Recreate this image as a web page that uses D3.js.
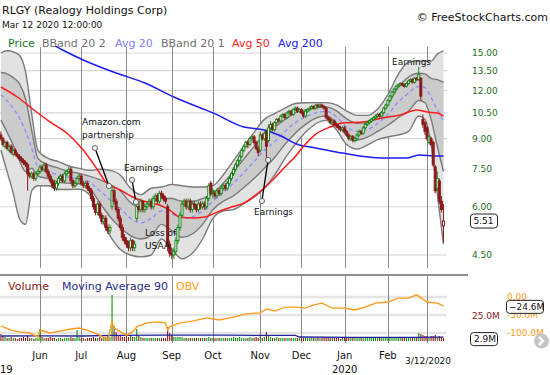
<!DOCTYPE html>
<html>
<head>
<meta charset="utf-8">
<script src="https://cdn.jsdelivr.net/npm/d3@7"></script>
<style>
    body { margin: 0; background: #fff; }
    svg { display: block; font-family: "DejaVu Sans", Verdana, sans-serif; }
</style>
</head>
<body>
<div id="chart"></div>
<script>
/*
    RLGY daily candles with Bollinger bands, moving averages, volume and OBV
 */

// trading days shown per month (May 2019 .. Mar 12 2020)
var monthLabels = ["May", "Jun", "Jul", "Aug", "Sep", "Oct", "Nov", "Dec", "Jan", "Feb", "3/12/2020"];
var monthDays = [19, 20, 22, 22, 20, 23, 20, 21, 21, 19, 9];
var priceTicks = [4.5, 6, 7.5, 9, 10.5, 12, 13.5, 15];

var opens = [
    9.2, 9.0, 8.6, 8.8, 8.4, 8.6, 8.2, 8.4, 8.2, 8.1, 8.0, 7.9, 7.8, 7.7, 7.3, 7.2, 7.3, 7.1, 7.3,            // May
    7.4, 7.6, 7.5, 7.7, 7.4, 7.2, 7.0, 6.9, 6.7, 6.9, 7.1, 7.2, 7.0, 7.3, 7.4, 7.5, 7.0, 6.8, 6.9, 7.1,      // Jun
    7.2, 6.9, 6.8, 6.9, 6.7, 6.6, 6.3, 6.0, 5.8, 6.1, 5.7, 5.5, 5.6, 5.3, 5.2, 6.0, 6.6, 6.2, 5.9, 5.6, 5.3, 5.0, // Jul
    4.9, 4.8, 4.7, 4.9, 4.7, 5.6, 6.0, 5.9, 6.2, 5.9, 6.0, 6.1, 6.2, 6.0, 6.3, 6.4, 6.2, 6.5, 6.4, 6.3, 6.0, 4.8, // Aug
    4.55, 4.5, 4.6, 4.9, 5.3, 5.7, 6.1, 6.2, 6.0, 6.2, 5.9, 6.1, 6.0, 5.9, 6.1, 6.0, 6.1, 6.0, 6.3, 6.9,    // Sep
    6.6, 6.5, 6.4, 6.6, 6.5, 6.7, 6.8, 6.7, 6.9, 7.1, 7.3, 7.5, 7.7, 7.9, 8.1, 8.4, 8.6, 8.8, 8.7, 9.0, 9.1, 8.8, 8.5, // Oct
    8.4, 9.2, 9.0, 9.4, 8.9, 9.6, 9.8, 9.5, 9.9, 10.1, 10.0, 10.3, 10.4, 10.2, 10.5, 10.6, 10.4, 10.7, 10.8, 10.6, // Nov
    10.7, 10.5, 10.3, 10.6, 10.7, 10.8, 10.9, 10.8, 11.0, 10.9, 11.0, 10.9, 10.8, 10.2, 10.1, 9.9, 10.0, 9.8, 9.7, 9.6, 9.5, // Dec
    9.6, 9.4, 9.2, 9.0, 9.1, 8.9, 9.0, 9.2, 9.4, 9.3, 9.6, 9.8, 9.9, 10.0, 10.1, 10.2, 10.3, 10.4, 10.3, 10.5, 10.8, // Jan
    11.0, 11.3, 11.6, 11.9, 12.1, 12.3, 12.4, 12.5, 12.4, 12.3, 12.5, 12.7, 12.8, 12.6, 12.9, 12.8, 12.9, 10.1, 9.9, // Feb
    9.6, 8.8, 9.0, 8.8, 7.6, 6.7, 7.0, 6.2, 5.35                                                              // Mar
];
var highs = [
    9.4, 9.1, 8.9, 8.9, 8.7, 8.7, 8.5, 8.5, 8.3, 8.2, 8.1, 8.0, 7.9, 7.8, 7.4, 7.4, 7.4, 7.4, 7.5,
    7.7, 7.7, 7.8, 7.8, 7.5, 7.3, 7.1, 7.0, 7.0, 7.2, 7.3, 7.3, 7.4, 7.5, 7.6, 7.6, 7.1, 7.0, 7.2, 7.3,
    7.3, 7.0, 7.0, 7.0, 6.8, 6.7, 6.4, 6.1, 6.2, 6.2, 5.8, 5.7, 5.7, 5.4, 5.4, 6.8, 6.7, 6.3, 6.0, 5.7, 5.4, 5.1,
    5.0, 4.9, 5.0, 4.95, 4.9, 6.2, 6.2, 6.3, 6.2, 6.1, 6.2, 6.3, 6.3, 6.4, 6.5, 6.5, 6.6, 6.6, 6.5, 6.4, 6.1, 4.9,
    4.7, 4.7, 5.0, 5.4, 5.8, 6.2, 6.3, 6.3, 6.3, 6.3, 6.2, 6.2, 6.1, 6.2, 6.2, 6.2, 6.2, 6.4, 6.9, 7.0,
    6.7, 6.6, 6.7, 6.7, 6.8, 6.9, 6.9, 7.0, 7.2, 7.4, 7.6, 7.8, 8.0, 8.2, 8.5, 8.7, 8.9, 8.9, 9.1, 9.2, 9.2, 8.9, 8.6,
    9.4, 9.3, 9.4, 9.5, 9.8, 10.0, 9.9, 10.0, 10.2, 10.2, 10.4, 10.5, 10.5, 10.6, 10.7, 10.7, 10.8, 10.9, 10.9, 10.8,
    10.8, 10.6, 10.7, 10.8, 10.9, 11.0, 11.0, 11.1, 11.1, 11.1, 11.1, 11.0, 10.9, 10.3, 10.2, 10.1, 10.1, 9.9, 9.8, 9.7, 9.7,
    9.7, 9.5, 9.3, 9.2, 9.2, 9.1, 9.3, 9.5, 9.5, 9.7, 9.9, 10.0, 10.1, 10.2, 10.3, 10.4, 10.5, 10.5, 10.6, 10.9, 11.1,
    11.4, 11.7, 12.0, 12.2, 12.4, 12.5, 12.6, 12.6, 12.5, 12.6, 12.8, 12.9, 12.9, 13.0, 13.0, 13.8, 13.0, 10.4, 10.0,
    9.7, 9.2, 9.1, 8.9, 7.7, 7.4, 7.1, 6.4, 6.1
];
var lows = [
    8.9, 8.6, 8.5, 8.4, 8.3, 8.2, 8.1, 8.1, 8.0, 7.9, 7.8, 7.7, 7.6, 6.6, 7.1, 7.1, 7.0, 7.0, 7.2,
    7.3, 7.4, 7.4, 7.3, 7.1, 6.9, 6.7, 6.6, 6.6, 6.8, 7.0, 6.9, 6.9, 7.2, 7.3, 6.9, 6.7, 6.7, 6.8, 7.0,
    6.8, 6.7, 6.7, 6.6, 6.5, 6.2, 5.9, 5.7, 5.7, 5.6, 5.4, 5.4, 5.2, 5.1, 5.1, 5.9, 6.1, 5.8, 5.5, 5.2, 4.9, 4.8,
    4.7, 4.6, 4.6, 4.6, 4.6, 5.5, 5.8, 5.8, 5.8, 5.8, 5.9, 6.0, 5.9, 5.9, 6.2, 6.1, 6.1, 6.3, 6.2, 6.1, 4.6, 4.45,
    4.4, 4.4, 4.5, 4.8, 5.2, 5.6, 6.0, 5.9, 5.9, 5.8, 5.8, 5.9, 5.8, 5.8, 5.9, 5.9, 5.9, 5.9, 6.2, 6.4,
    6.3, 6.3, 6.3, 6.4, 6.4, 6.6, 6.6, 6.6, 6.8, 7.0, 7.2, 7.4, 7.6, 7.8, 8.0, 8.3, 8.5, 8.5, 8.6, 8.9, 8.7, 8.4, 8.1,
    8.3, 8.9, 8.9, 8.0, 8.8, 9.4, 9.4, 9.4, 9.8, 9.9, 9.9, 10.2, 10.1, 10.1, 10.4, 10.3, 10.3, 10.6, 10.5, 10.5,
    10.4, 10.2, 10.2, 10.5, 10.6, 10.7, 10.7, 10.7, 10.8, 10.8, 10.8, 10.7, 10.1, 10.0, 9.8, 9.8, 9.7, 9.6, 9.5, 9.4, 9.4,
    9.3, 9.1, 8.9, 8.9, 8.8, 8.8, 8.9, 9.1, 9.2, 9.2, 9.5, 9.7, 9.8, 9.9, 10.0, 10.1, 10.2, 10.2, 10.2, 10.4, 10.7,
    10.9, 11.2, 11.5, 11.8, 12.0, 12.2, 12.3, 12.3, 12.2, 12.2, 12.4, 12.6, 12.5, 12.5, 12.7, 12.7, 11.3, 9.6, 9.2,
    8.9, 8.7, 8.6, 7.6, 6.5, 6.6, 6.1, 5.8, 4.85
];
var closes = [
    9.0, 8.7, 8.8, 8.5, 8.6, 8.3, 8.4, 8.2, 8.1, 8.0, 7.9, 7.8, 7.7, 7.3, 7.2, 7.3, 7.1, 7.3, 7.4,
    7.6, 7.5, 7.7, 7.4, 7.2, 7.0, 6.8, 6.7, 6.9, 7.1, 7.2, 7.0, 7.3, 7.4, 7.5, 7.0, 6.8, 6.9, 7.1, 7.2,
    6.9, 6.8, 6.9, 6.7, 6.6, 6.3, 6.0, 5.8, 6.1, 5.7, 5.5, 5.6, 5.3, 5.2, 5.3, 6.6, 6.2, 5.9, 5.6, 5.3, 5.0, 4.9,
    4.8, 4.7, 4.9, 4.7, 4.8, 6.0, 5.9, 6.2, 5.9, 6.0, 6.1, 6.2, 6.0, 6.3, 6.4, 6.2, 6.5, 6.4, 6.3, 6.2, 4.75, 4.55,
    4.5, 4.6, 4.9, 5.3, 5.7, 6.1, 6.2, 6.0, 6.2, 5.9, 6.1, 6.0, 5.9, 6.1, 6.0, 6.1, 6.0, 6.3, 6.8, 6.5,
    6.5, 6.4, 6.6, 6.5, 6.7, 6.8, 6.7, 6.9, 7.1, 7.3, 7.5, 7.7, 7.9, 8.1, 8.4, 8.6, 8.8, 8.7, 9.0, 9.1, 8.8, 8.5, 8.3,
    9.2, 9.0, 9.3, 8.6, 9.6, 9.8, 9.5, 9.9, 10.1, 10.0, 10.3, 10.4, 10.2, 10.5, 10.6, 10.4, 10.7, 10.8, 10.6, 10.7,
    10.5, 10.3, 10.6, 10.7, 10.8, 10.9, 10.8, 11.0, 10.9, 11.0, 10.9, 10.8, 10.2, 10.1, 9.9, 10.0, 9.8, 9.7, 9.6, 9.5, 9.6,
    9.4, 9.2, 9.0, 9.1, 8.9, 9.0, 9.2, 9.4, 9.3, 9.6, 9.8, 9.9, 10.0, 10.1, 10.2, 10.3, 10.4, 10.3, 10.5, 10.8, 11.0,
    11.3, 11.6, 11.9, 12.1, 12.3, 12.4, 12.5, 12.4, 12.3, 12.5, 12.7, 12.8, 12.6, 12.9, 12.8, 13.2, 11.6, 9.8, 9.4,
    9.0, 9.1, 8.7, 7.7, 6.6, 7.1, 6.2, 5.9, 5.51
];
// volume in millions
var volumes = [
    7, 5, 4, 3, 3, 4, 3, 3, 2, 3, 3, 4, 3, 5, 3, 3, 2, 3, 3,
    12, 4, 3, 3, 3, 4, 3, 3, 2, 3, 3, 2, 3, 3, 3, 4, 3, 3, 11, 4,
    3, 3, 2, 3, 3, 3, 4, 3, 3, 4, 3, 3, 4, 5, 4, 46, 15, 9, 6, 5, 4, 4,
    5, 4, 6, 4, 4, 12, 5, 4, 3, 3, 3, 3, 3, 3, 3, 3, 3, 3, 3, 3, 14, 8,
    6, 4, 4, 4, 4, 4, 3, 3, 3, 3, 3, 3, 3, 3, 3, 3, 3, 3, 4, 3,
    3, 3, 3, 3, 3, 3, 3, 3, 3, 3, 4, 3, 3, 4, 3, 3, 3, 3, 4, 3, 3, 4, 3,
    5, 3, 4, 9, 5, 4, 3, 3, 4, 3, 3, 3, 3, 3, 3, 3, 3, 3, 3, 3,
    3, 3, 3, 3, 3, 3, 3, 3, 3, 3, 3, 3, 4, 3, 3, 3, 3, 3, 3, 2, 3,
    3, 3, 3, 3, 3, 3, 3, 3, 3, 3, 3, 3, 3, 3, 3, 3, 3, 3, 3, 3, 4,
    4, 3, 3, 3, 3, 3, 3, 3, 3, 3, 3, 3, 3, 4, 3, 8, 7, 6, 5,
    5, 4, 5, 5, 6, 4, 5, 4, 2.9
];

// indicator readings (day index into the candle arrays)
var bandDays = [0, 3, 6, 9, 12, 15, 18, 23, 28, 33, 38, 43, 48, 53, 58, 63, 68, 73, 78, 83, 88, 93, 98,
    103, 108, 113, 118, 123, 128, 133, 138, 143, 148, 153, 158, 163, 168, 173, 178, 183, 188, 193, 198,
    203, 206, 209, 212, 215];
var ma20Vals = [11.7, 11.3, 10.8, 10.2, 9.4, 8.5, 7.6, 7.4, 7.25, 7.15, 7.1, 6.95, 6.6, 6.25, 5.95, 5.6,
    5.45, 5.6, 5.85, 5.75, 5.6, 5.65, 5.85, 6.2, 6.55, 6.9, 7.35, 7.85, 8.4, 8.85, 9.4, 9.9, 10.25, 10.5,
    10.6, 10.25, 9.65, 9.4, 9.5, 9.85, 10.4, 11.2, 11.8, 12.3, 12.2, 11.5, 10.7, 10.0];
var sd20Vals = [1.65, 1.95, 2.15, 2.3, 2.0, 0.95, 0.4, 0.3, 0.3, 0.25, 0.22, 0.25, 0.45, 0.6, 0.65, 0.55,
    0.5, 0.55, 0.45, 0.55, 0.6, 0.55, 0.45, 0.3, 0.35, 0.5, 0.62, 0.75, 0.85, 0.8, 0.7, 0.6, 0.45, 0.33,
    0.28, 0.38, 0.48, 0.47, 0.42, 0.45, 0.65, 1.0, 1.2, 1.0, 1.05, 1.4, 2.1, 2.6];

var ma50Days = [0, 8, 16, 24, 32, 40, 47, 51, 58, 64, 71, 77, 82, 87, 93, 99, 105, 112, 118, 125, 132,
    138, 143, 147, 153, 160, 166, 176, 185, 194, 202, 207, 212, 215];
var ma50Vals = [12.25, 11.54, 10.68, 9.94, 9.31, 8.41, 7.47, 6.95, 6.63, 6.36, 6.17, 6.06, 5.88, 5.64,
    5.61, 5.64, 5.81, 5.99, 6.13, 6.51, 7.04, 7.6, 8.1, 8.6, 9.25, 9.65, 9.88, 9.94, 10.18, 10.37, 10.68,
    10.55, 10.49, 10.3];

var ma200Days = [24, 30, 40, 56, 70, 84, 97, 103, 118, 128, 135, 145, 153, 166, 185, 197, 203, 212, 215];
var ma200Vals = [15.9, 15.27, 14.39, 13.31, 12.54, 11.54, 10.81, 10.5, 9.65, 9.48, 9.2, 8.67, 8.52, 8.26,
    8.02, 8.02, 8.17, 8.12, 8.12];

var volMaDays = [0, 19, 40, 54, 80, 110, 143, 145, 170, 200, 215];
var volMaVals = [5.0, 5.2, 5.0, 5.6, 5.9, 5.8, 5.6, 4.0, 3.7, 3.6, 3.9];

// on balance volume, millions
var obvDays = [0, 5, 9, 14, 18, 19, 24, 29, 34, 38, 43, 48, 52, 54, 55, 58, 61, 64, 66, 71, 76, 80, 81,
    82, 87, 93, 100, 106, 113, 119, 126, 129, 133, 138, 143, 148, 152, 156, 161, 167, 172, 177, 182, 188,
    193, 198, 202, 207, 212, 215];
var obvVals = [-80, -92, -97, -100, -111, -92, -100, -94, -89, -86, -94, -106, -119, -69, -86, -97, -106,
    -97, -83, -72, -69, -72, -92, -83, -72, -67, -58, -64, -56, -47, -44, -33, -39, -28, -28, -31, -22,
    -17, -31, -31, -36, -28, -17, -14, -3, -3, 6, -14, -17, -24.6];

var notes = [
    {lines: ["Amazon.com", "partnership"], tx: 82, ty: 125, from: [45.7, 8.51], to: [52.5, 6.79]},
    {lines: ["Earnings"], tx: 124, ty: 171, from: [63.7, 7.04], to: [65.6, 6.17]},
    {lines: ["Loss of", "USAA"], tx: 145, ty: 236},
    {lines: ["Earnings"], tx: 254, ty: 215, from: [129.8, 7.93], to: [126.8, 6.21]},
    {lines: ["Earnings"], tx: 392, ty: 65}
];

var W = 550, H = 375;
var plot = {left: 0, right: 447, top: 46, bottom: 268};
var volBox = {top: 276, bottom: 343};
var GREEN = "#1a861a", RED = "#8b1a1a";

var x = d3.scaleLinear().domain([19, 207]).range([40, 427]);
var y = d3.scaleLog().domain([4.5, 15]).range([255, 53]);
var yVol = d3.scaleLinear().domain([0, 25]).range([341, 316]);
var yObv = d3.scaleLinear().domain([-100, 0]).range([333, 297]);

var svg = d3.select("#chart").append("svg")
    .attr("width", W)
    .attr("height", H);

var defs = svg.append("defs");
defs.append("clipPath").attr("id", "clipMain")
    .append("rect")
    .attr("x", plot.left).attr("y", plot.top)
    .attr("width", plot.right - plot.left).attr("height", plot.bottom - plot.top);
defs.append("clipPath").attr("id", "clipVol")
    .append("rect")
    .attr("x", plot.left).attr("y", volBox.top)
    .attr("width", plot.right - plot.left).attr("height", volBox.bottom - volBox.top);

// month boundaries
var monthStart = [];
var acc = 0;
monthDays.forEach(function (n) { monthStart.push(acc); acc += n; });

// ---------- grid ----------
var grid = svg.append("g");
grid.selectAll(".hg").data(priceTicks).enter().append("line")
    .attr("x1", plot.left).attr("x2", plot.right)
    .attr("y1", function (d) { return y(d); }).attr("y2", function (d) { return y(d); })
    .attr("stroke", "#d6d6d6").attr("stroke-width", 1.2);

[0, -50, -100].forEach(function (v) {
    grid.append("line")
        .attr("x1", plot.left).attr("x2", plot.right)
        .attr("y1", yObv(v)).attr("y2", yObv(v))
        .attr("stroke", "#e4e4e4").attr("stroke-width", 2.5);
});

var vLines = monthStart.slice(1);
grid.selectAll(".vg").data(vLines).enter().append("line")
    .attr("x1", function (d) { return Math.round(x(d)) + 0.5; })
    .attr("x2", function (d) { return Math.round(x(d)) + 0.5; })
    .attr("y1", plot.top + 1).attr("y2", plot.bottom)
    .attr("stroke", "#8a8a8a").attr("stroke-width", 1);
grid.selectAll(".vg2").data(vLines).enter().append("line")
    .attr("x1", function (d) { return Math.round(x(d)) + 0.5; })
    .attr("x2", function (d) { return Math.round(x(d)) + 0.5; })
    .attr("y1", volBox.top).attr("y2", volBox.bottom)
    .attr("stroke", "#8a8a8a").attr("stroke-width", 1);

// ---------- bollinger bands ----------
var main = svg.append("g").attr("clip-path", "url(#clipMain)");
var band = bandDays.map(function (d, i) { return {k: d, m: ma20Vals[i], s: sd20Vals[i]}; });

function bandArea(n) {
    return d3.area().curve(d3.curveMonotoneX)
        .x(function (d) { return x(d.k); })
        .y0(function (d) { return y(Math.max(0.5, d.m - n * d.s)); })
        .y1(function (d) { return y(d.m + n * d.s); });
}
function bandLine(n) {
    return d3.line().curve(d3.curveMonotoneX)
        .x(function (d) { return x(d.k); })
        .y(function (d) { return y(Math.max(0.5, d.m + n * d.s)); });
}

main.append("path").datum(band).attr("d", bandArea(2)).attr("fill", "#e2e2e2");
main.append("path").datum(band).attr("d", bandArea(1)).attr("fill", "#cbcbcb");
[2, 1, -1, -2].forEach(function (n) {
    main.append("path").datum(band).attr("d", bandLine(n))
        .attr("fill", "none").attr("stroke", "#7a7a7a").attr("stroke-width", 1.4);
});
main.append("path").datum(band)
    .attr("d", bandLine(0))
    .attr("fill", "none").attr("stroke", "#8c8cff").attr("stroke-width", 1.3)
    .attr("stroke-dasharray", "4,3");

// ---------- moving averages ----------
function maLine(days, vals, scale) {
    return d3.line().curve(d3.curveMonotoneX)
        .x(function (d, i) { return x(days[i]); })
        .y(function (d) { return scale(d); })(vals);
}
main.append("path").attr("d", maLine(ma200Days, ma200Vals, y))
    .attr("fill", "none").attr("stroke", "#1c1cf0").attr("stroke-width", 1.5);
main.append("path").attr("d", maLine(ma50Days, ma50Vals, y))
    .attr("fill", "none").attr("stroke", "#ff1a1a").attr("stroke-width", 1.5);

// ---------- candles ----------
var candles = closes.map(function (c, i) {
    var prev = i > 0 ? closes[i - 1] : opens[i];
    return {k: i, o: opens[i], h: highs[i], l: lows[i], c: c, up: c >= prev};
});
var cg = main.append("g");
cg.selectAll(".wick").data(candles).enter().append("line")
    .attr("x1", function (d) { return x(d.k); })
    .attr("x2", function (d) { return x(d.k); })
    .attr("y1", function (d) { return y(d.h); })
    .attr("y2", function (d) { return y(d.l); })
    .attr("stroke", function (d) { return d.up ? GREEN : RED; })
    .attr("stroke-width", 1);
cg.selectAll(".body").data(candles).enter().append("rect")
    .attr("x", function (d) { return x(d.k) - 1; })
    .attr("y", function (d) { return y(Math.max(d.o, d.c)); })
    .attr("width", 2)
    .attr("height", function (d) { return Math.max(0.8, Math.abs(y(d.o) - y(d.c))); })
    .attr("fill", function (d) { return d.c > d.o ? "#fff" : (d.up ? GREEN : RED); })
    .attr("stroke", function (d) { return d.up ? GREEN : RED; })
    .attr("stroke-width", 1);

// ---------- annotations ----------
var ann = svg.append("g").attr("font-size", "9px").attr("fill", "#111");
notes.forEach(function (n) {
    n.lines.forEach(function (t, j) {
        ann.append("text").attr("x", n.tx).attr("y", n.ty + j * 12.5).text(t);
    });
    if (n.from) {
        ann.append("line")
            .attr("x1", x(n.from[0])).attr("y1", y(n.from[1]))
            .attr("x2", x(n.to[0])).attr("y2", y(n.to[1]))
            .attr("stroke", "#000").attr("stroke-width", 1.3);
        [n.from, n.to].forEach(function (p) {
            ann.append("circle").attr("cx", x(p[0])).attr("cy", y(p[1])).attr("r", 2.6)
                .attr("fill", "#eee").attr("stroke", "#666").attr("stroke-width", 1);
        });
    }
});

// ---------- price axis ----------
var ax = svg.append("g").attr("font-size", "9px").attr("fill", "#1e6e1e");
ax.selectAll("text").data(priceTicks).enter().append("text")
    .attr("x", 472)
    .attr("y", function (d) { return y(d); })
    .attr("dy", "0.35em")
    .text(function (d) { return d3.format(".2f")(d); });

var last = closes[closes.length - 1];
svg.append("rect").attr("x", 470.5).attr("y", y(last) - 7).attr("width", 27).attr("height", 14)
    .attr("rx", 3).attr("fill", "#fff").attr("stroke", "#222");
svg.append("text").attr("x", 473.5).attr("y", y(last)).attr("dy", "0.35em")
    .attr("font-size", "9px").attr("fill", "#111").text(d3.format(".2f")(last));

// ---------- volume panel ----------
svg.append("line").attr("x1", 0).attr("x2", 468).attr("y1", 275).attr("y2", 275)
    .attr("stroke", "#6a6a6a").attr("stroke-width", 1.5);

var vg = svg.append("g").attr("clip-path", "url(#clipVol)");
vg.selectAll(".vb").data(candles).enter().append("line")
    .attr("x1", function (d) { return x(d.k); })
    .attr("x2", function (d) { return x(d.k); })
    .attr("y1", yVol(0))
    .attr("y2", function (d) { return yVol(volumes[d.k]); })
    .attr("stroke", function (d) { return d.up ? "#0f8f0f" : "#8b1a1a"; })
    .attr("stroke-width", 1.1);
vg.append("path").attr("d", d3.line()
        .x(function (d, i) { return x(volMaDays[i]); })
        .y(function (d) { return yVol(d); })(volMaVals))
    .attr("fill", "none").attr("stroke", "#22229a").attr("stroke-width", 1.3);
vg.append("path").attr("d", d3.line()
        .x(function (d, i) { return x(obvDays[i]); })
        .y(function (d) { return yObv(d); })(obvVals))
    .attr("fill", "none").attr("stroke", "#ff9a1a").attr("stroke-width", 1.4);

// volume legend
var vl = svg.append("g").attr("font-size", "11px");
vl.append("text").attr("x", 8).attr("y", 290).attr("fill", "#8b1a1a").text("Volume");
vl.append("text").attr("x", 62).attr("y", 290).attr("fill", "#2a2a8a").text("Moving Average 90");
vl.append("text").attr("x", 176).attr("y", 290).attr("fill", "#ff9a1a").text("OBV");

// volume / obv axis labels
var va = svg.append("g").attr("font-size", "9px");
va.append("text").attr("x", 507).attr("y", yObv(0)).attr("dy", "0.35em").attr("fill", "#ff9a1a").text("0.00");
va.append("text").attr("x", 507).attr("y", yObv(-50)).attr("dy", "0.35em").attr("fill", "#ff9a1a").text("-50.0M");
va.append("text").attr("x", 507).attr("y", yObv(-100)).attr("dy", "0.35em").attr("fill", "#ff9a1a").text("-100.0M");
va.append("text").attr("x", 472).attr("y", yVol(25)).attr("dy", "0.35em").attr("fill", "#8b1a1a").text("25.0M");

var obvLast = obvVals[obvVals.length - 1];
va.append("rect").attr("x", 506.5).attr("y", yObv(obvLast) - 5.5).attr("width", 37).attr("height", 13)
    .attr("rx", 3).attr("fill", "#fff").attr("stroke", "#222");
va.append("text").attr("x", 509).attr("y", yObv(obvLast) + 1).attr("dy", "0.35em").attr("fill", "#111")
    .text(d3.format(".1f")(obvLast) + "M");
var volLast = volumes[volumes.length - 1];
va.append("rect").attr("x", 470.5).attr("y", yVol(volLast) - 5.5).attr("width", 27).attr("height", 13)
    .attr("rx", 3).attr("fill", "#fff").attr("stroke", "#222");
va.append("text").attr("x", 474).attr("y", yVol(volLast) + 1).attr("dy", "0.35em").attr("fill", "#111")
    .text(volLast + "M");

// scroll arrow
svg.append("circle").attr("cx", 541.5).attr("cy", 341).attr("r", 7.5).attr("fill", "#c4c4c4");
svg.append("path").attr("d", "M539,337 L543,341 L539,345")
    .attr("fill", "none").attr("stroke", "#fff").attr("stroke-width", 2.5);

// ---------- time axis ----------
var ta = svg.append("g").attr("fill", "#111");
monthLabels.forEach(function (m, i) {
    if (i === 0) return;
    var last = i === monthLabels.length - 1;
    ta.append("text")
        .attr("x", x(monthStart[i]) + (last ? 1 : 0))
        .attr("y", last ? 364 : 359)
        .attr("text-anchor", "middle")
        .attr("font-size", last ? "9px" : "10px")
        .text(m);
});
ta.append("text").attr("x", x(monthStart[8])).attr("y", 373).attr("text-anchor", "middle")
    .attr("font-size", "10px").text("2020");
ta.append("text").attr("x", x(monthStart[0]) - 1).attr("y", 373).attr("text-anchor", "middle")
    .attr("font-size", "10px").text("2019");

// ---------- header ----------
svg.append("text").attr("x", 2).attr("y", 14).attr("font-size", "11px").attr("fill", "#111")
    .text("RLGY (Realogy Holdings Corp)");
svg.append("text").attr("x", 2).attr("y", 28).attr("font-size", "9px").attr("fill", "#111")
    .text("Mar 12 2020 12:00:00");
svg.append("text").attr("x", 548).attr("y", 21).attr("text-anchor", "end")
    .attr("font-size", "11px").attr("fill", "#111").text("\u00a9 FreeStockCharts.com");

var legendItems = [
    {t: "Price", c: "#1a7a1a", x: 8},
    {t: "BBand 20 2", c: "#707070", x: 42},
    {t: "Avg 20", c: "#8080ff", x: 115},
    {t: "BBand 20 1", c: "#707070", x: 161},
    {t: "Avg 50", c: "#ff1a1a", x: 232},
    {t: "Avg 200", c: "#2020f0", x: 278}
];
svg.append("g").attr("font-size", "11px").selectAll("text").data(legendItems).enter().append("text")
    .attr("x", function (d) { return d.x; })
    .attr("y", 47)
    .attr("fill", function (d) { return d.c; })
    .text(function (d) { return d.t; });
</script>
</body>
</html>
